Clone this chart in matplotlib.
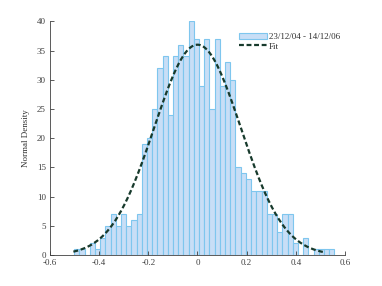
import numpy as np
import matplotlib
matplotlib.use("Agg")
import matplotlib.pyplot as plt

# Histogram data (counts per bin)
bin_start = -0.502
bin_end = 0.557
counts = [1, 1, 0, 2, 1, 3, 5, 7, 5, 7,
          5, 6, 7, 19, 20, 25, 32, 34, 24, 34,
          36, 34, 40, 37, 29, 37, 25, 37, 29, 33,
          30, 15, 14, 13, 11, 11, 11, 7, 7, 4,
          7, 7, 2, 0, 3, 0, 1, 1, 1, 1]

# Normal fit parameters
fit_mu = 0.0
fit_sigma = 0.176
fit_peak = 36.0
fit_range = (-0.505, 0.51)

series_label = "23/12/04 - 14/12/06"
fit_label = "Fit"
y_label = "Normal Density"
x_ticks = [-0.6, -0.4, -0.2, 0, 0.2, 0.4, 0.6]
x_ticklabels = ["-0.6", "-0.4", "-0.2", "0", "0.2", "0.4", "0.6"]
y_ticks = [0, 5, 10, 15, 20, 25, 30, 35, 40]

plt.rcParams['font.family'] = ['Liberation Serif', 'DejaVu Serif']
plt.rcParams['axes.unicode_minus'] = False

fig = plt.figure(figsize=(3.82, 2.86), dpi=100)
ax = fig.add_axes([0.131, 0.108, 0.772, 0.8175])

edges = np.linspace(bin_start, bin_end, len(counts) + 1)
bars = ax.bar(edges[:-1], counts, width=np.diff(edges), align='edge',
              facecolor='#c8def6', edgecolor='#7ec6ee', linewidth=0.8,
              label=series_label)

xs = np.linspace(fit_range[0], fit_range[1], 300)
ys = fit_peak * np.exp(-0.5 * ((xs - fit_mu) / fit_sigma) ** 2)
line, = ax.plot(xs, ys, linestyle=(0, (2.2, 1.2)), color='#173a2c',
                linewidth=1.6, label=fit_label)

ax.set_xlim(-0.6, 0.6)
ax.set_ylim(0, 40)
ax.set_xticks(x_ticks)
ax.set_xticklabels(x_ticklabels)
ax.set_yticks(y_ticks)
ax.tick_params(direction='in', length=3, width=0.6, labelsize=6.5,
               colors='#404040', pad=3)
for s in ['top', 'right']:
    ax.spines[s].set_visible(False)
for s in ['left', 'bottom']:
    ax.spines[s].set_color('#404040')
    ax.spines[s].set_linewidth(0.6)

ax.set_ylabel(y_label, fontsize=6.5, color='#303030', labelpad=5)

leg = ax.legend([bars, line], [series_label, fit_label],
                loc='upper left', bbox_to_anchor=(0.628, 0.965), frameon=False,
                fontsize=6.5, handlelength=3.1, handletextpad=0.2,
                borderaxespad=0, labelspacing=0.1)
for t in leg.get_texts():
    t.set_color('#303030')

fig.savefig("out.png", dpi=100)
